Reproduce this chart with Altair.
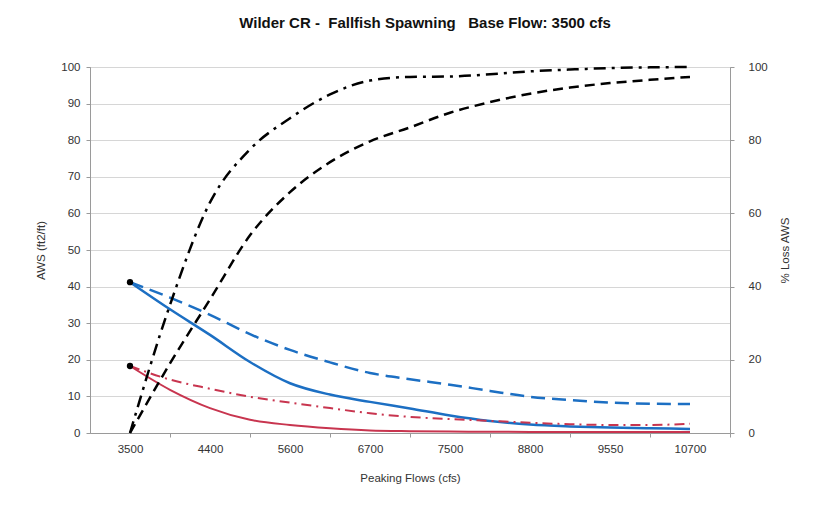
import json
import altair as alt
import pandas as pd

# Category labels on the x axis (evenly spaced categories)
categories = ["3500", "4400", "5600", "6700", "7500", "8800", "9550", "10700"]

pos = [0, 0.5, 1, 1.5, 2, 2.5, 3, 3.5, 4, 4.5, 5, 5.5, 6, 6.5, 7]

# Left axis: AWS (ft2/ft)
blue_solid = [41.2, 33.8, 26.8, 19.4, 13.6, 10.5, 8.5, 6.7, 4.8, 3.3, 2.3, 1.8, 1.5, 1.3, 1.1]
blue_dash = [41.2, 37.0, 32.3, 27.0, 22.7, 19.3, 16.4, 14.7, 13.2, 11.5, 9.9, 9.0, 8.3, 8.0, 7.9]
red_solid = [18.3, 11.8, 6.8, 3.6, 2.2, 1.3, 0.7, 0.5, 0.4, 0.35, 0.3, 0.3, 0.3, 0.3, 0.3]
red_dashdot = [18.3, 14.6, 12.1, 9.9, 8.3, 6.8, 5.4, 4.4, 3.8, 3.3, 2.8, 2.4, 2.2, 2.2, 2.5]

# Right axis: % Loss AWS
black_dashdot = [0, 35, 63, 77.5, 86, 92.5, 96.3, 97.3, 97.4, 98.0, 98.8, 99.3, 99.7, 99.9, 100]
black_dash = [0, 19, 36.5, 54, 65.8, 74, 79.7, 83.5, 87.5, 90.4, 92.7, 94.4, 95.6, 96.5, 97.3]

# Start points marked with dots
start_pos = [0, 0]
start_vals = [41.2, 18.3]

FONT = "Liberation Sans Narrow, Liberation Sans, Arial"
BLUE = "#1c6fc3"
RED = "#c8354f"
NB = "\u00a0"

def frame(vals):
    return pd.DataFrame({"pos": pos, "val": vals})

x_enc = alt.X(
    "pos:Q",
    scale=alt.Scale(domain=[-0.5, 7.5], nice=False, zero=False),
    axis=alt.Axis(
        values=list(range(len(categories))),
        labelExpr=json.dumps(categories) + "[datum.value]",
        title="Peaking Flows (cfs)",
        grid=False,
        tickOffset=40,
        labelOffset=-40,
        tickSize=4,
        labelPadding=6,
        titlePadding=18,
    ),
)

yscale = alt.Scale(domain=[0, 100], nice=False)

left_axis = alt.Axis(
    values=list(range(0, 101, 10)), title="AWS (ft2/ft)", grid=True,
    tickSize=4, labelPadding=6, titlePadding=14,
)
right_axis = alt.Axis(
    values=list(range(0, 101, 20)), title="% Loss AWS", orient="right", grid=False,
    tickSize=4, labelPadding=14, titlePadding=23, titleAngle=270,
)

def line(vals, color, dash, width, axis):
    y = alt.Y("val:Q", scale=yscale, axis=axis)
    m = alt.Chart(frame(vals)).mark_line(
        color=color, strokeWidth=width, interpolate="monotone",
        **({"strokeDash": dash} if dash else {})
    )
    return m.encode(x=x_enc, y=y)

pts = alt.Chart(pd.DataFrame({"pos": start_pos, "val": start_vals})).mark_circle(
    color="black", size=40, opacity=1
).encode(x=x_enc, y=alt.Y("val:Q", scale=yscale, axis=left_axis))

left = alt.layer(
    line(blue_dash, BLUE, [14, 7], 2.5, left_axis),
    line(blue_solid, BLUE, None, 2.5, left_axis),
    line(red_dashdot, RED, [10, 5, 2, 5], 2, left_axis),
    line(red_solid, RED, None, 2, left_axis),
    pts,
)

right = alt.layer(
    line(black_dashdot, "black", [12, 6, 3, 6], 2.5, right_axis),
    line(black_dash, "black", [10, 6], 2.5, right_axis),
)

title_text = "Wilder CR -" + NB + " Fallfish Spawning" + NB + NB + " Base Flow: 3500 cfs"

chart = alt.layer(left, right).resolve_scale(y="independent").properties(
    width=640,
    height=366,
    title=alt.TitleParams(
        title_text,
        fontSize=15, fontWeight="bold", font=FONT, color="#111", offset=30, dx=15,
    ),
    autosize=alt.AutoSizeParams(type="none"),
    padding={"left": 82, "top": 59, "right": 80, "bottom": 60},
).configure_view(
    stroke="#9a9a9a", strokeWidth=1
).configure_axis(
    labelFont=FONT, titleFont=FONT, labelFontSize=11.5, titleFontSize=11.5,
    labelColor="#333", titleColor="#333", titleFontWeight="normal",
    domainColor="#9a9a9a", tickColor="#9a9a9a", gridColor="#d6d6d6",
)

chart.save("out.html", embed_options={"renderer": "svg", "actions": False})
